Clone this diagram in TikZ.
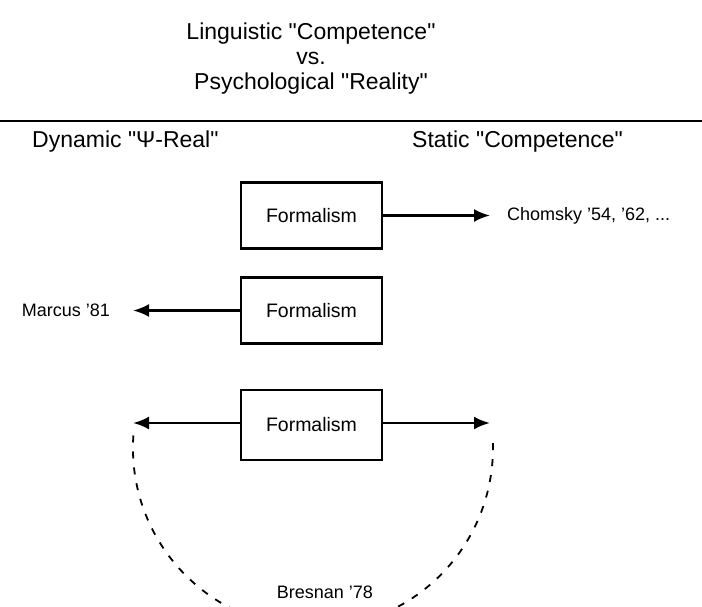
\documentclass[tikz,border=0pt]{standalone}
\usepackage{fontspec}
\setmainfont{Liberation Sans}
\usetikzlibrary{arrows.meta}

\begin{document}
\begin{tikzpicture}[
    x=1pt,y=-1pt,
    t/.style={font=\fontsize{23}{25}\selectfont,anchor=base,inner sep=0pt},
    f/.style={rectangle,draw=black,line width=2.5pt,minimum width=141pt,minimum height=66pt,font=\fontsize{19.5}{22}\selectfont},
    ref/.style={font=\fontsize{18}{20}\selectfont,inner ysep=0pt},
    arr/.style={line width=2.5pt,-{Latex[length=16pt,width=13pt]}},
    ]
    \useasboundingbox (0,0) rectangle (702,607);
    \node[t] (l1) at (311,40) {Linguistic \textquotedbl Competence\textquotedbl};
    \node[t] (l2) at (311,65) {vs.};
    \node[t] (l3) at (311,90) {Psychological \textquotedbl Reality\textquotedbl};
    \coordinate (rl) at (0,121);
    \coordinate (rr) at (702,121);
    \draw[line width=2.5pt] (rl) -- (rr);
    \node[t,anchor=base west] (dyn) at (32,148) {Dynamic \textquotedbl Ψ-Real\textquotedbl};
    \node[t,anchor=base west] (sta) at (412,148) {Static \textquotedbl Competence\textquotedbl};
    \node[f] (F1) at (311.5,215.5) {Formalism};
    \node[f] (F2) at (311.5,310.5) {Formalism};
    \node[f,minimum height=70pt] (F3) at (311.5,425) {Formalism};
    \node[ref,anchor=west,inner xsep=17pt] (chom) at (490,215.5) {Chomsky '54, '62, ...};
    \node[ref,anchor=east,inner xsep=23pt] (marc) at (133,310.5) {Marcus '81};
    \coordinate (dl) at (133,423);
    \coordinate (dr) at (490,423);
    \draw[arr] (F3.west |- dl) -- (dl);
    \draw[arr] (F1) -- (chom);
    \draw[arr] (F2) -- (marc);
    \draw[arr] (F3.east |- dr) -- (dr);
    \coordinate (as) at (133.4,435.5);
    \draw[line width=1.8pt,dash pattern=on 7pt off 9pt] (as) arc[start angle=176,end angle=364,radius=180pt];
    \node[ref] (bres) at (325,592) {Bresnan '78};
\end{tikzpicture}
\end{document}
